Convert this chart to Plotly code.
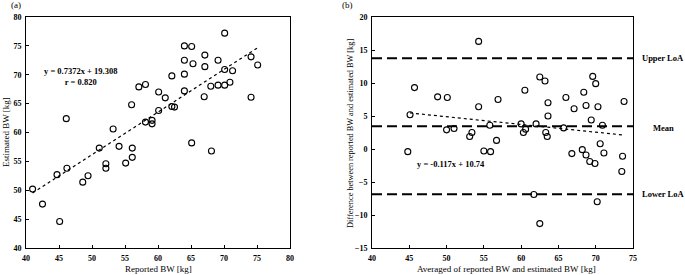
import plotly.graph_objects as go

# ---- Data (a): reported vs estimated BW ----
reported_bw = [46.1, 53.2, 56.0, 57.1, 58.1, 58.1, 59.1, 59.1, 60.1, 60.1, 61.1, 62.1, 62.1, 62.5,
               64.0, 65.1, 64.0, 65.3, 64.0, 64.0, 67.1, 67.1, 67.0, 69.1, 68.0, 69.1, 70.1, 70.1,
               70.1, 70.9, 71.3, 74.1, 75.1, 74.1,
               51.1, 54.1, 56.1, 56.1, 52.1, 52.1, 55.1, 46.2, 44.7, 49.4, 48.6, 41.0, 42.5, 45.1,
               65.1, 68.1]
estimated_bw = [62.4, 60.6, 64.8, 67.9, 68.3, 61.8, 62.1, 61.5, 67.0, 63.8, 66.0, 69.8, 64.5, 64.4,
                75.0, 74.9, 72.5, 71.9, 70.1, 67.2, 73.4, 71.4, 66.2, 72.5, 68.0, 68.2, 77.2, 70.9,
                68.2, 68.7, 70.7, 73.1, 71.7, 66.1,
                57.3, 57.6, 57.3, 55.7, 54.6, 53.8, 54.7, 53.8, 52.7, 52.5, 51.4, 50.2, 47.6, 44.6,
                58.2, 56.8]
fit_a_slope, fit_a_intercept = 0.7372, 19.308
fit_a_x = [41.0, 75.1]

# ---- Data (b): Bland-Altman ----
mean_bw = [45.1, 45.7, 48.8, 50.1, 50.0, 51.0, 54.3, 54.3, 56.9, 55.8, 53.4, 53.1, 56.7, 60.5,
           60.0, 60.3, 60.6, 62.0, 62.5, 63.2, 63.6, 63.6, 63.3, 63.5, 65.7, 66.0, 67.1, 68.4,
           68.7, 69.6, 70.0, 70.3, 69.4, 70.9, 73.8,
           44.8, 55.0, 55.9, 61.7, 62.5, 66.8, 68.2, 68.7, 69.2, 69.9, 70.6, 71.1, 70.2, 73.6, 73.5]
diff_bw = [5.2, 9.3, 7.9, 7.8, 2.9, 3.1, 16.3, 6.4, 7.5, 3.6, 2.5, 1.9, 1.3, 8.9,
           3.8, 2.5, 3.0, 3.8, 10.9, 10.3, 7.0, 5.0, 2.5, 1.9, 3.2, 7.8, 6.1, 8.6,
           6.6, 11.0, 9.9, 6.4, 4.4, 3.6, 7.2,
           -0.4, -0.3, -0.4, -6.9, -11.3, -0.7, -0.1, -0.9, -1.9, -2.2, 0.8, -0.6, -8.0, -1.1, -3.4]
fit_b_slope, fit_b_intercept = -0.117, 10.74
fit_b_x = [45.1, 73.6]
mean_diff = 3.45
upper_loa = 13.75
lower_loa = -6.85

W, H = 685, 275
serif = "Liberation Serif, Times New Roman, serif"

def px_x(p):
    return p / W

def px_y(p):
    return 1 - p / H

fig = go.Figure()

marker = dict(symbol="circle-open", size=6, color="black", line=dict(width=1.1, color="black"))

fig.add_trace(go.Scatter(x=reported_bw, y=estimated_bw, mode="markers", marker=marker,
                         xaxis="x", yaxis="y", showlegend=False))
fig.add_trace(go.Scatter(x=fit_a_x, y=[fit_a_slope * v + fit_a_intercept for v in fit_a_x],
                         mode="lines", line=dict(color="black", width=1.2, dash="dot"),
                         xaxis="x", yaxis="y", showlegend=False))

fig.add_trace(go.Scatter(x=mean_bw, y=diff_bw, mode="markers", marker=marker,
                         xaxis="x2", yaxis="y2", showlegend=False))
fig.add_trace(go.Scatter(x=fit_b_x, y=[fit_b_slope * v + fit_b_intercept for v in fit_b_x],
                         mode="lines", line=dict(color="black", width=1.2, dash="dot"),
                         xaxis="x2", yaxis="y2", showlegend=False))

for val in [upper_loa, mean_diff, lower_loa]:
    fig.add_shape(type="line", xref="x2 domain", yref="y2", x0=0, x1=1, y0=val, y1=val,
                  line=dict(color="black", width=2, dash="10px,5px"))

tickfont = dict(family=serif, size=8, color="black")
axis_common = dict(showgrid=False, zeroline=False, showline=True, linecolor="black", linewidth=1,
                   mirror=True, ticks="inside", ticklen=3, tickwidth=1, tickcolor="black",
                   tickfont=tickfont, automargin=False, ticklabelstandoff=2)

fig.update_layout(
    width=W, height=H, margin=dict(l=0, r=0, t=0, b=0, autoexpand=False),
    paper_bgcolor="white", plot_bgcolor="white",
    xaxis=dict(domain=[px_x(26), px_x(290)], range=[40, 80], dtick=5, anchor="y",
               tickprefix="<b>", ticksuffix="</b>", **axis_common),
    yaxis=dict(domain=[px_y(248), px_y(17)], range=[40, 80], dtick=5, anchor="x",
               tickprefix="<b>", ticksuffix="</b>", **axis_common),
    xaxis2=dict(domain=[px_x(372), px_x(633)], range=[40, 75], dtick=5, anchor="y2",
                tickprefix="<b>", ticksuffix="</b>", **axis_common),
    yaxis2=dict(domain=[px_y(248), px_y(17)], range=[-15, 20], dtick=5, anchor="x2",
                tickprefix="<b>", ticksuffix="</b>", **axis_common),
)

ann_font = dict(family=serif, size=9, color="black")
ytitle2_font = dict(family=serif, size=8.3, color="black")
bold_font = dict(family=serif, size=8.5, color="black")
c = dict(showarrow=False, xanchor="center", yanchor="middle")
annotations = [
    dict(text="(a)", x=px_x(16), y=px_y(5), xref="paper", yref="paper", font=ann_font, **c),
    dict(text="(b)", x=px_x(347), y=px_y(5), xref="paper", yref="paper", font=ann_font, **c),
    dict(text="Reported BW [kg]", x=px_x(158), y=px_y(269), xref="paper", yref="paper",
         font=ann_font, **c),
    dict(text="Estimated BW [kg]", x=px_x(6), y=px_y(132), xref="paper", yref="paper",
         font=ann_font, textangle=-90, **c),
    dict(text="Averaged of reported BW and estimated BW [kg]", x=px_x(506), y=px_y(269),
         xref="paper", yref="paper", font=ann_font, **c),
    dict(text="Difference between reported BW and estimated BW [kg]", x=px_x(350), y=px_y(134),
         xref="paper", yref="paper", font=ytitle2_font, textangle=-90, **c),
    dict(text="<b>y = 0.7372x + 19.308</b><br><b>r = 0.820</b>", x=48.2, y=69.7, xref="x", yref="y",
         font=bold_font, align="center", **c),
    dict(text="<b>y = -0.117x + 10.74</b>", x=50.6, y=-2.2, xref="x2", yref="y2",
         font=bold_font, **c),
    dict(text="<b>Upper LoA</b>", x=px_x(663), y=upper_loa, xref="paper", yref="y2",
         font=bold_font, **c),
    dict(text="<b>Mean</b>", x=px_x(663), y=mean_diff - 0.3, xref="paper", yref="y2",
         font=bold_font, **c),
    dict(text="<b>Lower LoA</b>", x=px_x(663), y=lower_loa, xref="paper", yref="y2",
         font=bold_font, **c),
]
fig.update_layout(annotations=annotations)

fig.write_html("out.html")
